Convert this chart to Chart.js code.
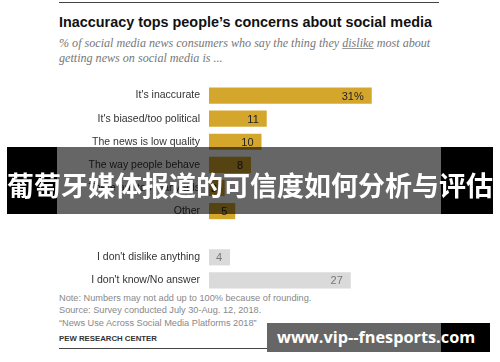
<!DOCTYPE html>
<html lang="en">
<head>
  <meta charset="UTF-8" />
  <title>Inaccuracy tops people's concerns about social media</title>
  <script src="https://cdn.jsdelivr.net/npm/chart.js"></script>
  <style>
    body { margin: 0; width: 500px; height: 362px; background: #fff; position: relative; overflow: hidden; font-family: "Liberation Sans", Arial, sans-serif; }
    .rule { position: absolute; left: 59px; width: 380px; height: 1px; background: #444; }
    .title { position: absolute; left: 59px; top: 14px; font-size: 14.4px; font-weight: bold; color: #111; white-space: nowrap; }
    .sub { position: absolute; left: 59px; top: 36px; font-family: "Liberation Serif", serif; font-style: italic; font-size: 12.1px; line-height: 15px; color: #777; }
    .sub u { text-decoration-color: #999; }
    #wrap { position: absolute; left: 0; top: 84px; width: 440px; height: 208px; }
    .note { position: absolute; left: 59px; top: 292px; font-size: 9.2px; line-height: 12.3px; color: #888; }
    .pew { position: absolute; left: 59px; top: 334px; font-size: 7.8px; font-weight: bold; color: #333; }
    .blk-l, .blk-r, .mid { position: absolute; top: 147px; height: 67px; }
    .blk-l { left: 7px; width: 50px; background: #000; }
    .blk-r { left: 441px; width: 52px; background: #000; }
    .mid { left: 57px; width: 384px; background: rgba(0,0,0,0.6); }
    .band-txt { position: absolute; left: 0; top: 166px; width: 500px; text-align: center; font-family: "Noto Sans CJK SC", sans-serif; font-weight: bold; font-size: 27px; color: #fff; line-height: 38px; }
    .url { position: absolute; left: 267px; top: 323px; width: 223px; height: 29px; background: #666; }
    .url .blk { position: absolute; right: 0; top: 0; width: 49px; height: 29px; background: #000; }
    .url span { position: absolute; left: 10px; top: 3px; font-family: "Open Sans", sans-serif; font-weight: bold; font-size: 16.3px; color: #fff; white-space: nowrap; }
  </style>
</head>
<body>
  <div class="rule" style="top:2px"></div>
  <div class="title">Inaccuracy tops people’s concerns about social media</div>
  <div class="sub">% of social media news consumers who say the thing they <u>dislike</u> most about<br>getting news on social media is ...</div>

  <div id="wrap"><canvas id="chart"></canvas></div>

  <div class="note">Note: Numbers may not add up to 100% because of rounding.<br>Source: Survey conducted July 30-Aug. 12, 2018.<br>“News Use Across Social Media Platforms 2018”</div>
  <div class="pew">PEW RESEARCH CENTER</div>
  <div class="rule" style="top:348px"></div>

  <div class="blk-l"></div><div class="mid"></div><div class="blk-r"></div>
  <div class="band-txt">葡萄牙媒体报道的可信度如何分析与评估</div>
  <div class="url"><div class="blk"></div><span>www.vip--fnesports.com</span></div>

  <script>
    const categories = ["It's inaccurate", "It's biased/too political", "The news is low quality",
      "The way people behave", "There are too many ads", "Other", "",
      "I don't dislike anything", "I don't know/No answer"];
    const values = [31, 11, 10, 8, 3, 5, null, 4, 27];
    const valueLabels = ["31%", "11", "10", "8", "3", "5", "", "4", "27"];
    const negative = [true, true, true, true, true, true, false, false, false];

    const GOLD = "#d4a72c";
    const GRAY = "#dadada";

    // draws the numbers inside the bars, right aligned
    const barLabels = {
      id: "barLabels",
      afterDatasetsDraw(chart) {
        const ctx = chart.ctx;
        const meta = chart.getDatasetMeta(0);
        ctx.save();
        ctx.font = "11px 'Liberation Sans', Arial, sans-serif";
        ctx.textAlign = "right";
        ctx.textBaseline = "middle";
        meta.data.forEach((bar, i) => {
          if (values[i] == null) return;
          ctx.fillStyle = negative[i] ? "#222" : "#777";
          ctx.fillText(valueLabels[i], bar.x - 8, bar.y + 1);
        });
        ctx.restore();
      }
    };

    new Chart(document.getElementById("chart"), {
      type: "bar",
      data: {
        labels: categories,
        datasets: [{
          data: values,
          backgroundColor: negative.map(n => n ? GOLD : GRAY),
          categoryPercentage: 1,
          barPercentage: 0.7
        }]
      },
      options: {
        indexAxis: "y",
        responsive: true,
        maintainAspectRatio: false,
        animation: false,
        layout: { padding: 0 },
        plugins: { legend: { display: false }, tooltip: { enabled: false } },
        scales: {
          x: { display: false, min: 0, max: 44 },
          y: {
            grid: { display: false, drawTicks: false },
            border: { display: false },
            ticks: {
              color: "#333",
              padding: 9,
              font: { family: "'Liberation Sans', Arial, sans-serif", size: 10.5 }
            },
            afterFit(scale) {
              scale.width = 209;
              scale.paddingTop = 0;
              scale.paddingBottom = 0;
            }
          }
        }
      },
      plugins: [barLabels]
    });
  </script>
</body>
</html>
